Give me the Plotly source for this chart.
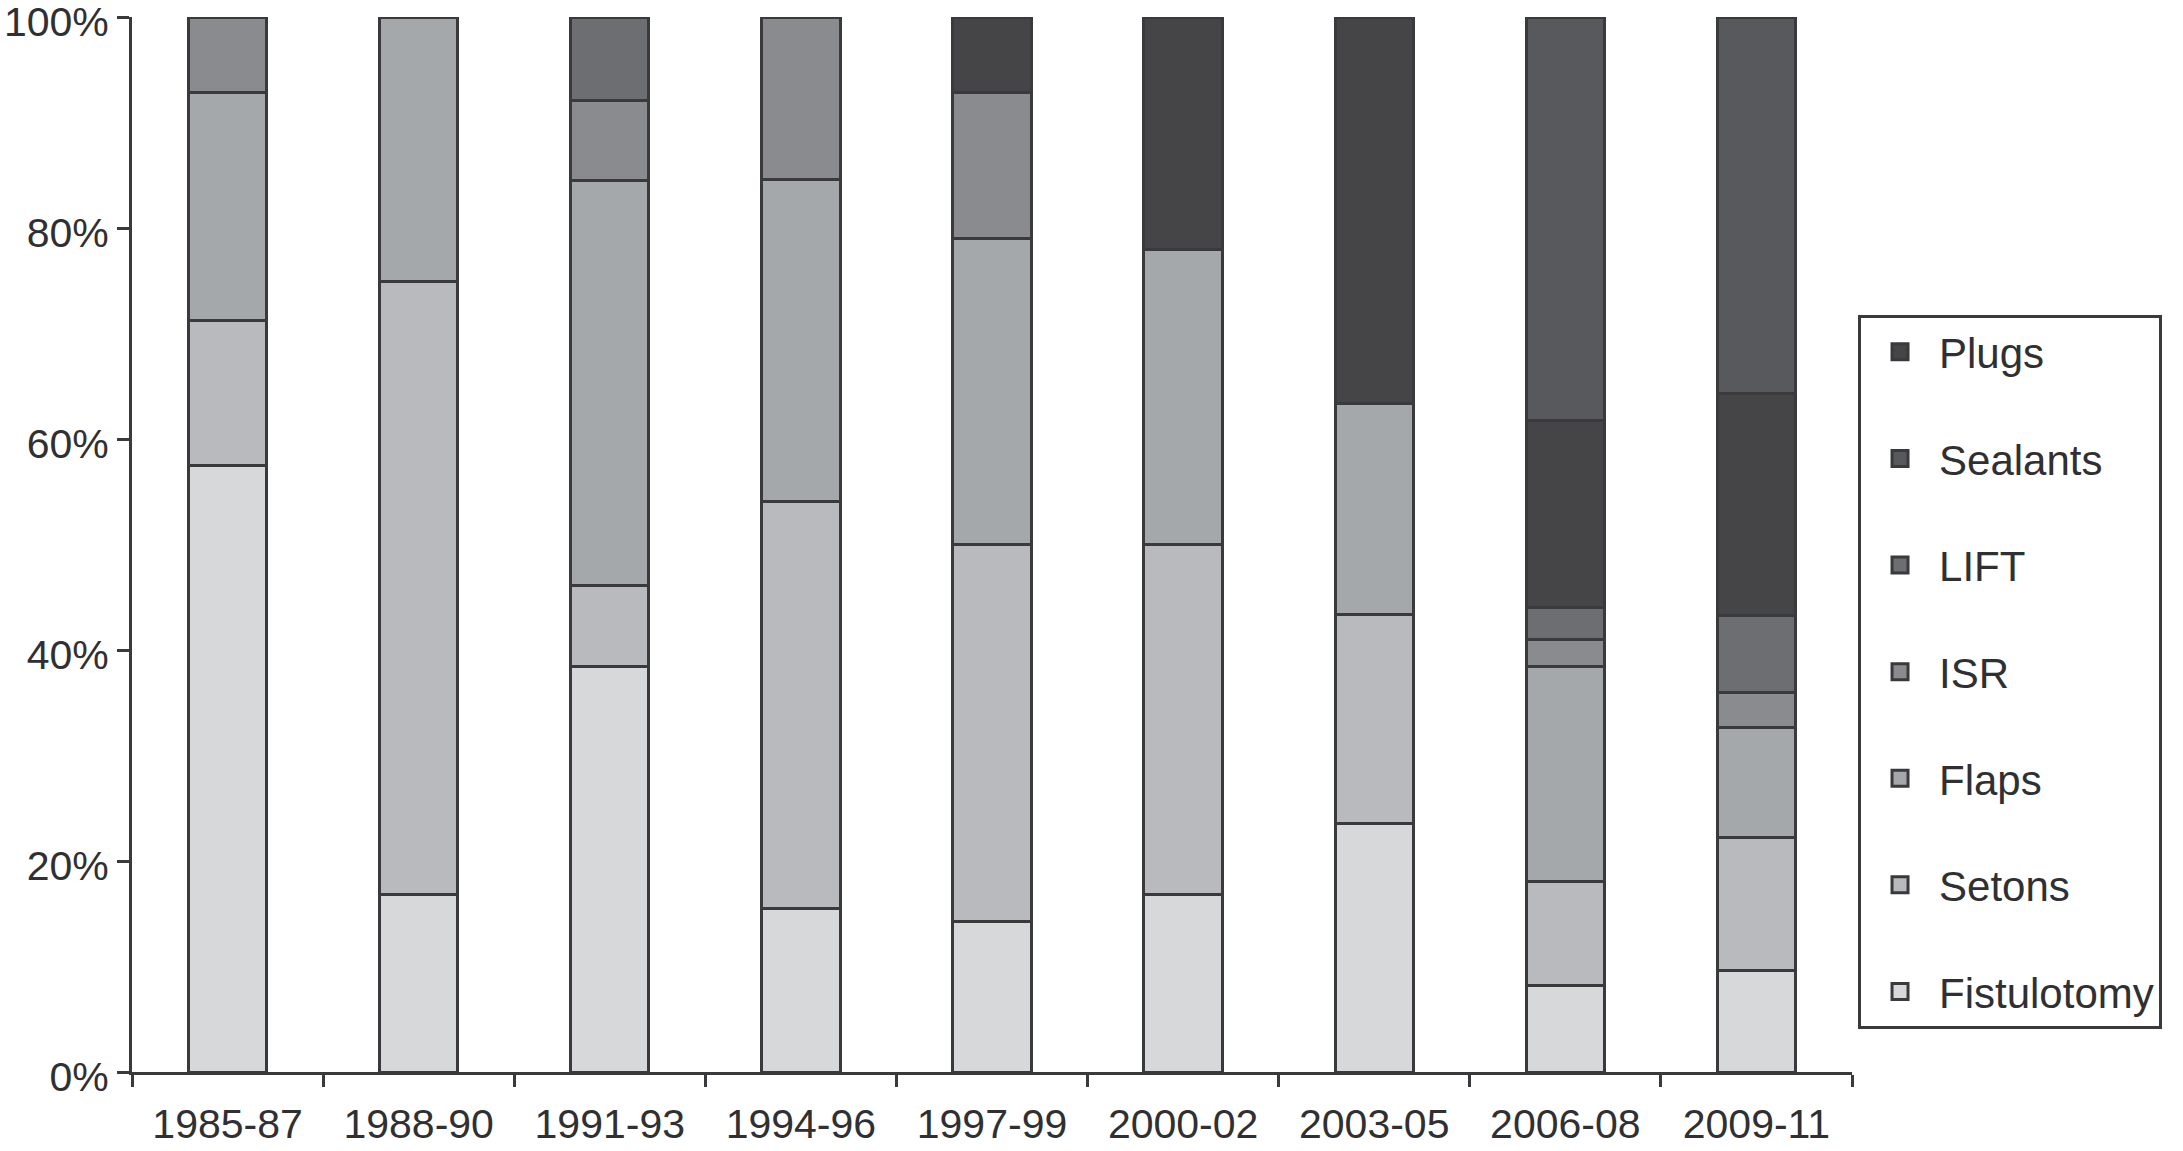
import plotly.graph_objects as go

categories = ["1985-87", "1988-90", "1991-93", "1994-96", "1997-99",
              "2000-02", "2003-05", "2006-08", "2009-11"]

# percentages per period (stacked bottom to top)
fistulotomy = [57.5, 16.8, 38.4, 15.5, 14.3, 16.8, 23.6, 8.2, 9.6]
setons      = [13.7, 58.1, 7.7, 38.6, 35.7, 33.2, 19.8, 9.9, 12.6]
flaps       = [21.6, 25.1, 38.4, 30.5, 29.0, 28.0, 20.0, 20.3, 10.5]
isr         = [7.2, 0.0, 7.6, 15.4, 13.8, 0.0, 0.0, 2.6, 3.3]
lift        = [0.0, 0.0, 7.9, 0.0, 0.0, 0.0, 0.0, 3.0, 7.3]
plugs       = [0.0, 0.0, 0.0, 0.0, 7.2, 22.0, 36.6, 17.8, 21.0]
sealants    = [0.0, 0.0, 0.0, 0.0, 0.0, 0.0, 0.0, 38.2, 35.7]

series = [
    ("Fistulotomy", fistulotomy, "#d7d8da", 7),
    ("Setons", setons, "#b9babd", 6),
    ("Flaps", flaps, "#a5a8ab", 5),
    ("ISR", isr, "#8a8b8e", 4),
    ("LIFT", lift, "#6d6e71", 3),
    ("Plugs", plugs, "#454547", 1),
    ("Sealants", sealants, "#58595c", 2),
]

EDGE = "#3a3a3c"
FONT = "Liberation Sans, Arial, sans-serif"
TXT = "#303032"

fig = go.Figure()
for name, vals, col, rank in series:
    fig.add_trace(go.Bar(
        x=categories, y=vals, name=name, width=0.41,
        marker=dict(color=col, line=dict(color=EDGE, width=3)),
        showlegend=False,
    ))
    # legend proxy with larger square swatch
    fig.add_trace(go.Scatter(
        x=[None], y=[None], mode="markers", name=name,
        marker=dict(symbol="square", size=16, color=col,
                    line=dict(color=EDGE, width=3)),
        legendrank=rank, legendgroup=name, showlegend=True,
    ))

fig.update_layout(
    barmode="stack",
    width=2183, height=1151,
    margin=dict(l=132, r=331, t=17, b=79),
    plot_bgcolor="white", paper_bgcolor="white",
    font=dict(family=FONT, size=41, color=TXT),
    legend=dict(
        x=1.0035, xanchor="left", y=0.7175, yanchor="top",
        bordercolor=EDGE, borderwidth=3, bgcolor="white",
        font=dict(family=FONT, size=42, color=TXT),
        tracegroupgap=49, itemsizing="trace", itemwidth=68,
    ),
)
fig.update_xaxes(
    type="category", showgrid=False, showline=True, linecolor=EDGE, linewidth=3,
    ticks="outside", tickson="boundaries", ticklen=12, tickwidth=3, tickcolor=EDGE,
    tickfont=dict(family=FONT, size=41, color=TXT), automargin=False,
    ticklabelstandoff=14, ticklabeloverflow="allow",
)
fig.update_yaxes(
    range=[0, 100], tickvals=[0, 20, 40, 60, 80, 100],
    ticktext=["0%", "20%", "40%", "60%", "80%", "100%"],
    showgrid=False, showline=True, linecolor=EDGE, linewidth=3,
    ticks="outside", ticklen=12, tickwidth=3, tickcolor=EDGE,
    tickfont=dict(family=FONT, size=41, color=TXT), zeroline=False,
    automargin=False, ticklabeloverflow="allow", ticklabelshift=5,
)

# remove the browser's default 8px body margin so the figure fills the window
fig.write_html("out.html", config={"displayModeBar": False},
               post_script="document.body.style.margin='0';")
